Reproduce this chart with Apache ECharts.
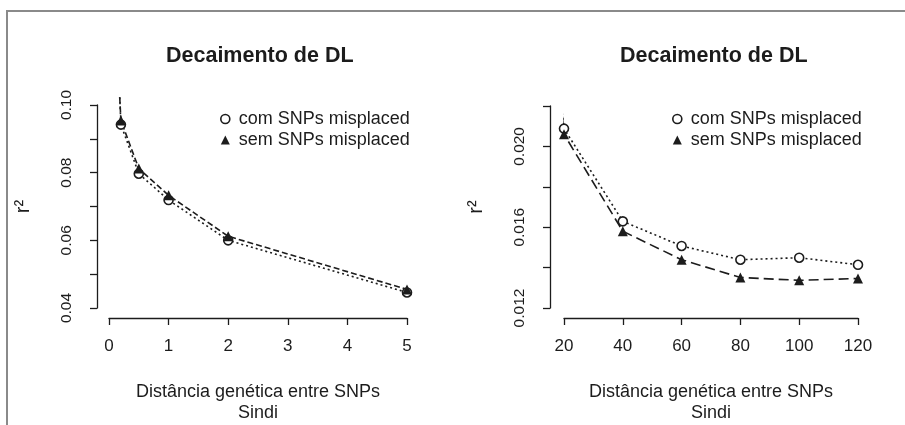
<!DOCTYPE html>
<html>
<head>
<meta charset="utf-8">
<script src="https://cdn.jsdelivr.net/npm/echarts@6/dist/echarts.min.js"></script>
<style>
html,body{margin:0;padding:0;background:#fff;}
#c{width:905px;height:425px;}
</style>
</head>
<body>
<div id="c"></div>
<script>
// ---------- data ----------
var titleText = 'Decaimento de DL';
var xTitle = 'Distância genética entre SNPs\nSindi';
var yTitle = 'r²';
var seriesNames = ['com SNPs misplaced', 'sem SNPs misplaced'];

// left panel: distance (cM)
var leftX = [0.2, 0.5, 1, 2, 5];
var leftCom = [0.0942, 0.0797, 0.0719, 0.0600, 0.0446];
var leftSem = [0.0954, 0.0812, 0.0733, 0.0612, 0.0455];
// curve ends visible beyond the points
var leftCurveStart = [0.18, 0.1023];
var leftCurveEnd = [5.18, 0.0447];

// right panel: distance
var rightX = [20, 40, 60, 80, 100, 120];
var rightCom = [0.02088, 0.01629, 0.01507, 0.01439, 0.01449, 0.01414];
var rightSem = [0.02060, 0.01580, 0.01439, 0.01351, 0.01337, 0.01346];
var rightCurveStart = [18.8, 0.0224];

// axis ticks
var leftXTicks = {min: 0, max: 5, step: 1};
var leftYTicks = {min: 0.04, max: 0.10, step: 0.01, labelEvery: 0.02};
var rightXTicks = {min: 20, max: 120, step: 20};
var rightYTicks = {min: 0.012, max: 0.022, step: 0.002, labelEvery: 0.004};

// ---------- build ----------
function pairs(xs, ys) { return xs.map(function (x, i) { return [x, ys[i]]; }); }
var INK = '#1c1c1c';
var FONT = '"Liberation Sans", Arial, Helvetica, sans-serif';

function yFormatter(t, dec) {
  return function (v) {
    var k = Math.round((v - t.min) / t.labelEvery * 1000) / 1000;
    return Math.abs(k - Math.round(k)) < 1e-6 ? v.toFixed(dec) : '';
  };
}

function xAxisOpt(grid, t) {
  return {
    type: 'value', gridIndex: grid, min: t.min, max: t.max, interval: t.step,
    offset: 10,
    axisLine: {show: true, onZero: false, lineStyle: {color: INK, width: 1.3}},
    axisTick: {show: true, length: 7, lineStyle: {color: INK, width: 1.3}},
    axisLabel: {color: INK, fontSize: 17, fontFamily: FONT, margin: 20},
    splitLine: {show: false},
    name: xTitle, nameLocation: 'middle', nameGap: 64,
    nameTextStyle: {color: INK, fontSize: 18, fontFamily: FONT, lineHeight: 21}
  };
}
function yAxisOpt(grid, t, dec, off) {
  return {
    type: 'value', gridIndex: grid, min: t.min, max: t.max, interval: t.step,
    offset: off,
    axisLine: {show: true, onZero: false, lineStyle: {color: INK, width: 1.3}},
    axisTick: {show: true, length: 7, lineStyle: {color: INK, width: 1.3}},
    axisLabel: {color: INK, fontSize: 15.5, fontFamily: FONT, rotate: 90, margin: 22,
      formatter: yFormatter(t, dec), showMinLabel: true, showMaxLabel: true},
    splitLine: {show: false},
    name: yTitle, nameLocation: 'middle', nameGap: 64, nameRotate: 90,
    nameTextStyle: {color: INK, fontSize: 20, fontFamily: FONT}
  };
}

var circleStyle = {color: '#fff', borderColor: INK, borderWidth: 1.6, opacity: 1};
var triStyle = {color: INK, borderColor: INK, borderWidth: 0, opacity: 1};

function lineSeries(name, xi, data, dash) {
  return {
    name: name + ' ', type: 'line', xAxisIndex: xi, yAxisIndex: xi,
    data: data, showSymbol: false, symbol: 'none', clip: false, silent: true,
    lineStyle: {color: INK, width: 1.6, type: dash}, z: 2
  };
}
function markSeries(name, xi, data, isCircle) {
  return {
    name: name, type: 'scatter', xAxisIndex: xi, yAxisIndex: xi, data: data,
    symbol: isCircle ? 'circle' : 'triangle', symbolSize: isCircle ? 9 : 10,
    itemStyle: isCircle ? circleStyle : triStyle, clip: false, z: isCircle ? 3 : 4
  };
}

var leftComLine = [leftCurveStart].concat(pairs(leftX, leftCom), [leftCurveEnd]);
var leftSemLine = [leftCurveStart].concat(pairs(leftX, leftSem), [leftCurveEnd]);
var rightComLine = [rightCurveStart].concat(pairs(rightX, rightCom));
var rightSemLine = [rightCurveStart].concat(pairs(rightX, rightSem));

function legendOpt(left) {
  return {
    orient: 'vertical', left: left, top: 110, itemWidth: 9, itemHeight: 9, itemGap: 3,
    padding: 0, selectedMode: false,
    textStyle: {color: INK, fontSize: 18, fontFamily: FONT, lineHeight: 18, padding: [0, 0, 0, 4]},
    data: [
      {name: seriesNames[0], icon: 'circle', itemStyle: circleStyle},
      {name: seriesNames[1], icon: 'triangle', itemStyle: triStyle}
    ]
  };
}

var option = {
  backgroundColor: '#fff',
  animation: false,
  title: [
    {text: titleText, left: 166, top: 45, padding: 0,
     textStyle: {color: INK, fontSize: 21.5, fontWeight: 'bold', fontFamily: FONT}},
    {text: titleText, left: 620, top: 45, padding: 0,
     textStyle: {color: INK, fontSize: 21.5, fontWeight: 'bold', fontFamily: FONT}}
  ],
  legend: [legendOpt(220), legendOpt(672)],
  grid: [
    {left: 109, right: 498, top: 105, bottom: 113, containLabel: false},
    {left: 564, right: 47, top: 106, bottom: 113, containLabel: false}
  ],
  xAxis: [xAxisOpt(0, leftXTicks), xAxisOpt(1, rightXTicks)],
  yAxis: [yAxisOpt(0, leftYTicks, 2, 12), yAxisOpt(1, rightYTicks, 3, 14)],
  series: [
    lineSeries(seriesNames[0], 0, leftComLine, [2, 3]),
    lineSeries(seriesNames[1], 0, leftSemLine, [6, 3]),
    markSeries(seriesNames[0], 0, pairs(leftX, leftCom), true),
    markSeries(seriesNames[1], 0, pairs(leftX, leftSem), false),
    lineSeries(seriesNames[0], 1, rightComLine, [2, 3]),
    lineSeries(seriesNames[1], 1, rightSemLine, [10, 5]),
    markSeries(seriesNames[0], 1, pairs(rightX, rightCom), true),
    markSeries(seriesNames[1], 1, pairs(rightX, rightSem), false)
  ],
  graphic: [
    {type: 'rect', silent: true, z: 0,
     shape: {x: 7, y: 11, width: 920, height: 430},
     style: {fill: 'none', stroke: '#8a8a8a', lineWidth: 2}}
  ]
};

var chart = echarts.init(document.getElementById('c'), null, {renderer: 'canvas'});
chart.setOption(option);
</script>
</body>
</html>
